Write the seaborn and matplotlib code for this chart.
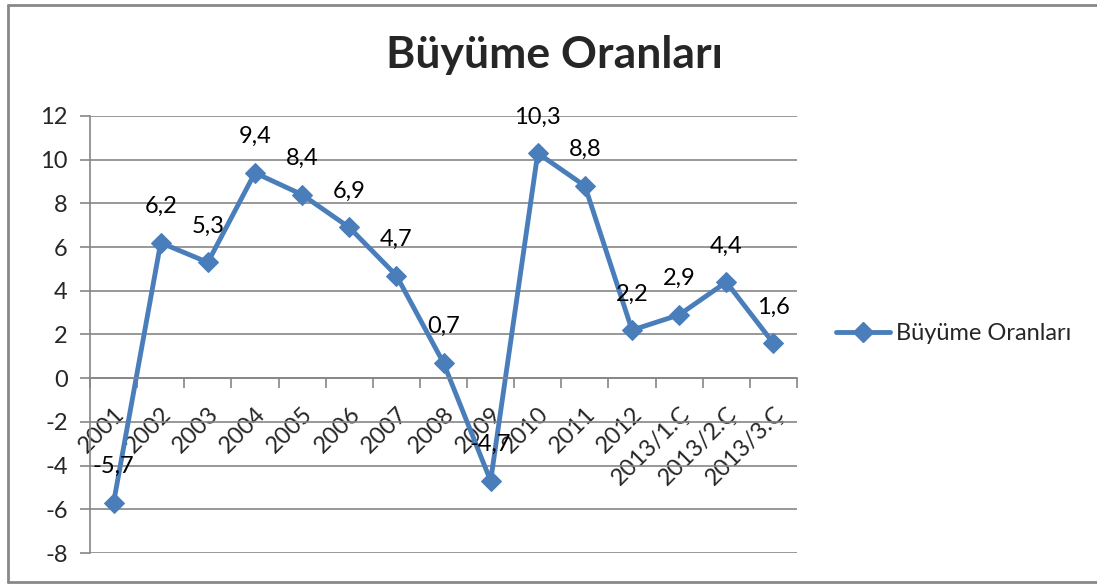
import matplotlib
matplotlib.use('Agg')
import matplotlib.pyplot as plt
import matplotlib.transforms as mtransforms
from matplotlib.lines import Line2D
import seaborn as sns
import pandas as pd
import numpy as np

categories = ['2001', '2002', '2003', '2004', '2005', '2006', '2007', '2008',
              '2009', '2010', '2011', '2012', '2013/1.Ç', '2013/2.Ç', '2013/3.Ç']
values = [-5.7, 6.2, 5.3, 9.4, 8.4, 6.9, 4.7, 0.7, -4.7, 10.3, 8.8, 2.2, 2.9, 4.4, 1.6]
y_ticks = [-8, -6, -4, -2, 0, 2, 4, 6, 8, 10, 12]
series_name = 'Büyüme Oranları'
title = 'Büyüme Oranları'

sns.set_theme(style='white')
plt.rcParams['font.family'] = ['Lato', 'DejaVu Sans']

W, H = 1097, 584
FS = 17
fig = plt.figure(figsize=(W / 100, H / 100), dpi=100)
fig.patch.set_facecolor('white')
ax = fig.add_axes([90 / W, 1 - 553 / H, (797 - 90) / W, (553 - 116) / H])

line_color = '#4A7EBB'
grid_color = '#868686'

df = pd.DataFrame({'pos': np.arange(len(categories)), 'val': values, 'cat': categories})
sns.lineplot(data=df, x='pos', y='val', ax=ax, color=line_color, linewidth=3.5,
             marker='D', markersize=10, markeredgecolor=line_color, legend=False)

ax.set_xlim(-0.5, len(categories) - 0.5)
ax.set_ylim(min(y_ticks), max(y_ticks))
ax.set_xlabel('')
ax.set_ylabel('')

# y axis
ax.set_yticks(y_ticks)
ax.set_yticklabels([str(t) for t in y_ticks], fontsize=FS)
ax.tick_params(axis='y', direction='out', length=7, width=1.2, color=grid_color, pad=9, left=True)
ax.yaxis.grid(True, color=grid_color, linewidth=1.2)
ax.xaxis.grid(False)

# x axis at y=0
ax.spines['bottom'].set_position(('data', 0))
ax.spines['bottom'].set_color(grid_color)
ax.spines['bottom'].set_linewidth(1.2)
ax.spines['left'].set_color(grid_color)
ax.spines['left'].set_linewidth(1.2)
ax.spines['top'].set_visible(False)
ax.spines['right'].set_visible(False)

ax.set_xticks(np.arange(len(categories) + 1) - 0.5)
ax.set_xticklabels([''] * (len(categories) + 1))
ax.tick_params(axis='x', which='major', direction='out', length=7, width=1.2, color=grid_color, bottom=True)
ax.set_xticks(np.arange(len(categories)), minor=True)
ax.set_xticklabels(categories, minor=True, fontsize=FS, rotation=45, ha='right', va='top',
                   rotation_mode='anchor')
ax.tick_params(axis='x', which='minor', length=0, pad=18, bottom=True)

# data labels
for i, v in enumerate(values):
    ax.annotate(f'{v:.1f}'.replace('.', ','), (i, v), xytext=(0, 26), textcoords='offset points',
                ha='center', va='center', fontsize=FS, color='black', annotation_clip=False)

# title
fig.text(555 / W, 1 - 55 / H, title, ha='center', va='center', fontsize=32, fontweight='bold')

# legend
handle = Line2D([], [], color=line_color, linewidth=3.5, marker='D', markersize=10)
fig.legend([handle], [series_name], loc='center left', bbox_to_anchor=(836 / W, 1 - 334 / H),
           frameon=False, fontsize=FS, handlelength=2.3, handletextpad=0.25,
           borderpad=0, borderaxespad=0)

# outer border
border_kw = dict(color='#888888', linewidth=2, transform=fig.transFigure)
fig.add_artist(Line2D([8 / W, 1.0], [1 - 5 / H, 1 - 5 / H], **border_kw))
fig.add_artist(Line2D([8 / W, 8 / W], [1 - 5 / H, 1 - 582 / H], **border_kw))
fig.add_artist(Line2D([8 / W, 1.0], [1 - 582 / H, 1 - 582 / H], **border_kw))

fig.savefig('out.png', dpi=100)
